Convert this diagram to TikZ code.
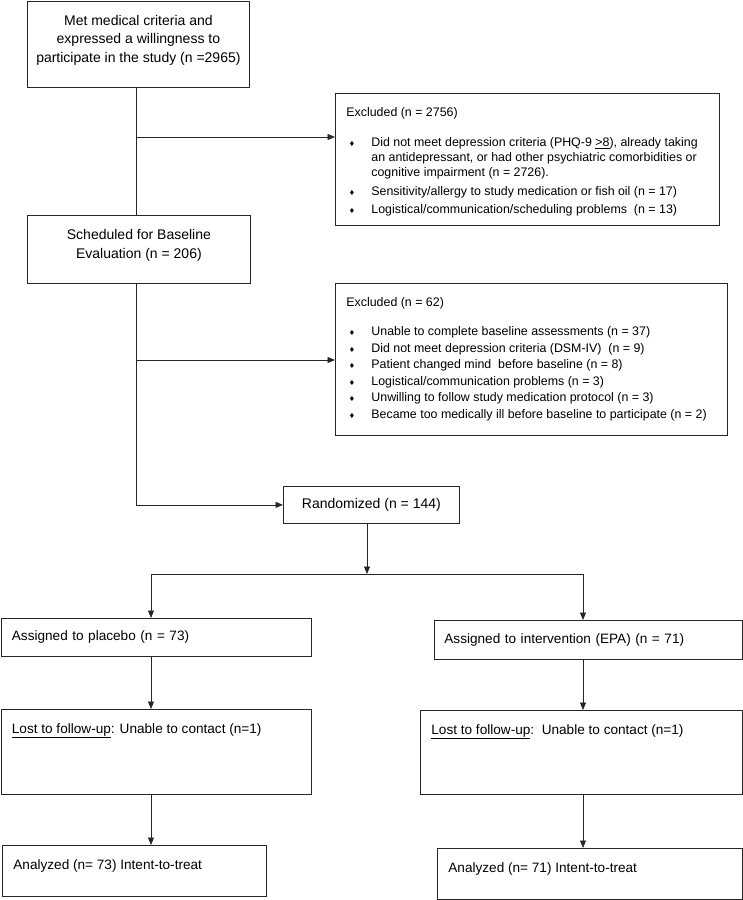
\documentclass[tikz,border=0pt]{standalone}
\usepackage{fontspec}
\setmainfont{Liberation Sans}
\newfontfamily\symfont{DejaVu Sans}
\usetikzlibrary{arrows.meta}

\newcommand{\bul}{{\symfont\fontsize{7}{7}\selectfont ♦}}
\newcommand{\bitem}[1]{\par\hangindent=25pt\hangafter=1\noindent\makebox[25pt][l]{\hspace{2.5pt}\bul}#1}
\newcommand{\topbox}[3]{\parbox[t][#2][t]{#1}{#3}}

\tikzset{
  conn/.style={draw=black!85, line width=0.8pt},
  arr/.style={conn, -{Triangle[length=7.5pt,width=6pt]}},
  box/.style={draw=black!85, line width=0.8pt, rectangle, inner sep=0pt,
    anchor=north west, font=\fontsize{14}{18.5}\selectfont},
  armbox/.style={box, font=\fontsize{13.6}{18}\selectfont},
  tbox/.style={armbox, inner xsep=11pt, inner ysep=13.8pt},
  lbox/.style={armbox, inner xsep=11pt, align=left},
}

\begin{document}
\begin{tikzpicture}[x=1pt,y=-1pt]
  \useasboundingbox (0,0) rectangle (743,900);

  \node[box, inner xsep=4pt, inner ysep=14.3pt] (met) at (27,0.5)
    {\topbox{214pt}{57.9pt}{\centering Met medical criteria and\\ expressed a willingness to\\ participate in the study (n =2965)}};
  \node[box, inner xsep=4pt, inner ysep=13.8pt] (sched) at (27,215)
    {\topbox{215pt}{40.4pt}{\centering\baselineskip=19pt Scheduled for Baseline\\ Evaluation (n = 206)}};

  \node[box, inner xsep=11pt, inner ysep=14.5pt] (excla) at (335,93)
    {\topbox{362pt}{103pt}{\fontsize{12.4}{15}\selectfont\raggedright\setlength{\parskip}{3.3pt}%
      Excluded (n = 2756)\par\vspace{11.7pt}%
      \bitem{Did not meet depression criteria (PHQ-9 \underline{>8}), already taking\newline an antidepressant, or had other psychiatric comorbidities or\newline cognitive impairment (n = 2726).}
      \bitem{Sensitivity/allergy to study medication or fish oil (n = 17)}
      \bitem{Logistical/communication/scheduling problems\ \ (n = 13)}}};
  \node[box, inner xsep=11pt, inner ysep=14pt] (exclb) at (335,283)
    {\topbox{370pt}{124pt}{\fontsize{12.4}{16.5}\selectfont\raggedright
      Excluded (n = 62)\par\vspace{12.8pt}%
      \bitem{Unable to complete baseline assessments (n = 37)}
      \bitem{Did not meet depression criteria (DSM-IV)\ \ (n = 9)}
      \bitem{Patient changed mind\ \ before baseline (n = 8)}
      \bitem{Logistical/communication problems (n = 3)}
      \bitem{Unwilling to follow study medication protocol (n = 3)}
      \bitem{Became too medically ill before baseline to participate (n = 2)}}};

  \node[box, minimum width=176pt, minimum height=37pt] (rand) at (283,486) {Randomized (n = 144)};

  % two arms
  \node[lbox, text width=288pt, minimum height=38pt] (plac) at (0.5,618) {Assigned to placebo (n = 73)};
  \node[lbox, inner xsep=10pt, text width=288pt, minimum height=39pt] (epa) at (434,620) {Assigned to intervention (EPA) (n = 71)};
  \node[tbox] (lostl) at (0.5,709) {\topbox{288pt}{57.4pt}{\underline{Lost to follow-up}: Unable to contact (n=1)}};
  \node[tbox] (lostr) at (420,710) {\topbox{300pt}{56.4pt}{\underline{Lost to follow-up}:\ \ Unable to contact (n=1)}};
  \node[tbox] (anl) at (2,845) {\topbox{242pt}{23.4pt}{Analyzed (n= 73) Intent-to-treat}};
  \node[tbox] (anr) at (437,848) {\topbox{283pt}{23.4pt}{Analyzed (n= 71) Intent-to-treat}};

  \coordinate (trunk) at (136,0);
  \coordinate (bra) at (136,137);
  \coordinate (brb) at (136,360);
  \coordinate (split) at (367,574);
  \coordinate (sl) at (151,574);
  \coordinate (sr) at (583,574);

  \draw[conn] (met.south -| trunk) -- (sched.north -| trunk);
  \draw[arr] (bra) -- (bra -| excla.west);
  \draw[arr] (sched.south -| trunk) |- (rand.west);
  \draw[arr] (brb) -- (brb -| exclb.west);
  \draw[arr] (rand.south -| split) -- (split);
  \draw[conn] (sl) -- (sr);
  \draw[arr] (sl) -- (sl |- plac.north);
  \draw[arr] (sr) -- (sr |- epa.north);
  \draw[arr] (plac.south -| sl) -- (lostl.north -| sl);
  \draw[arr] (lostl.south -| sl) -- (anl.north -| sl);
  \draw[arr] (epa.south -| sr) -- (lostr.north -| sr);
  \draw[arr] (lostr.south -| sr) -- (anr.north -| sr);
\end{tikzpicture}
\end{document}
